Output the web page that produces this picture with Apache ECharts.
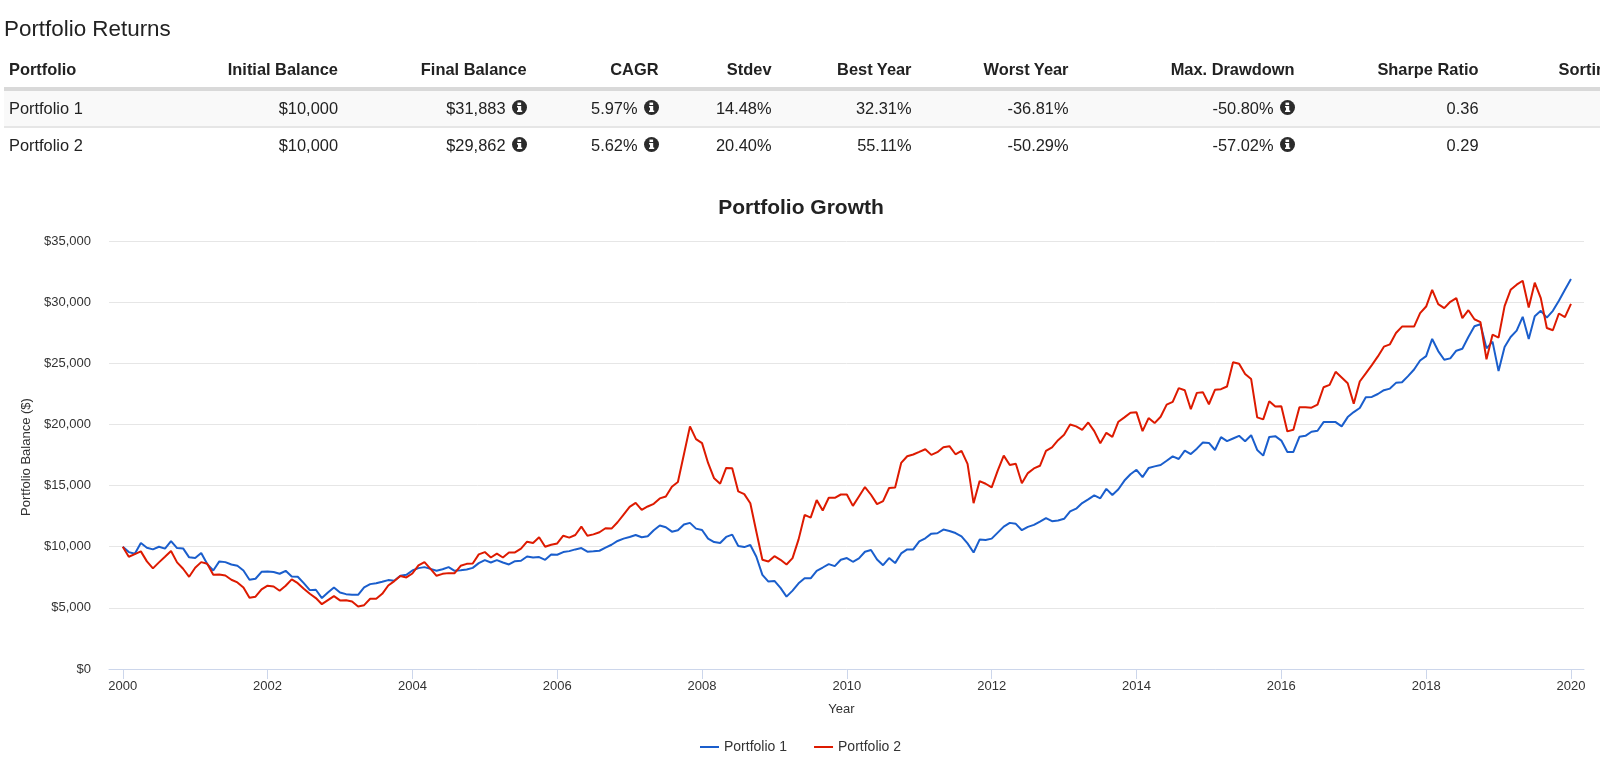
<!DOCTYPE html>
<html>
	<head>
		<meta charset="utf-8" />
		<title>Portfolio Returns</title>
		<script src="https://cdn.jsdelivr.net/npm/echarts@6/dist/echarts.min.js"></script>
		<style>
			html, body { margin: 0; padding: 0; width: 1600px; height: 769px; overflow: hidden; background: #fff; }
			body { font-family: "Liberation Sans", Helvetica, Arial, sans-serif; color: #222; }
			#main { position: absolute; left: 0; top: 0; width: 1600px; height: 769px; }
			#heading { position: absolute; left: 4px; top: 16px; font-size: 22.4px; line-height: 26px; z-index: 2; }
			#returns { position: absolute; left: 4px; top: 52px; width: 1657px; table-layout: fixed; border-collapse: separate; border-spacing: 0; font-size: 16.4px; z-index: 2; }
			#returns th, #returns td { padding: 0; text-align: right; white-space: nowrap; }
			#returns th:first-child, #returns td:first-child { text-align: left; padding-left: 5px; }
			#returns th { height: 35px; border-bottom: 4px solid #d9d9d9; font-weight: bold; }
			#returns td { height: 34px; }
			#returns tr.first td { height: 35px; background: #f9f9f9; border-bottom: 2px solid #e6e6e6; }
			.info { display: inline-block; width: 15px; height: 15px; margin-left: 6px; vertical-align: -1px; }
		</style>
	</head>
	<body>
		<div id="main"></div>
		<div id="heading">Portfolio Returns</div>
		<table id="returns"><colgroup id="cols"></colgroup><thead><tr id="head"></tr></thead><tbody id="rows"></tbody></table>
		<script>
			// table contents
			var columns = ['Portfolio', 'Initial Balance', 'Final Balance', 'CAGR', 'Stdev', 'Best Year', 'Worst Year', 'Max. Drawdown', 'Sharpe Ratio', 'Sortino Ratio'];
			var columnWidths = [196, 138, 188.5, 132, 113, 140, 157, 226, 184, 183];
			var infoColumns = [2, 3, 7];
			var row1 = ['Portfolio 1', '$10,000', '$31,883', '5.97%', '14.48%', '32.31%', '-36.81%', '-50.80%', '0.36', ''];
			var row2 = ['Portfolio 2', '$10,000', '$29,862', '5.62%', '20.40%', '55.11%', '-50.29%', '-57.02%', '0.29', ''];

			// month end balances, Jan 2000 to Jan 2020
			var portfolio1 = [
				10000, 9560, 9430, 10300, 9920, 9780, 10000, 9840, 10460, 9890, 9860, 9130,
				9070, 9480, 8580, 8060, 8800, 8740, 8550, 8440, 8060, 7300, 7380, 7950,
				7980, 7930, 7790, 8030, 7570, 7540, 7020, 6450, 6480, 5800, 6260, 6670,
				6260, 6120, 6070, 6070, 6670, 6940, 7020, 7130, 7270, 7220, 7620, 7700,
				8055, 8250, 8330, 8190, 8030, 8160, 8330, 8030, 8080, 8140, 8270, 8660,
				8900, 8710, 8900, 8710, 8550, 8820, 8850, 9200, 9120, 9150, 8930, 9370,
				9340, 9560, 9640, 9780, 9890, 9590, 9620, 9670, 9920, 10160, 10470, 10660,
				10800, 10960, 10770, 10850, 11340, 11730, 11590, 11230, 11340, 11810, 11950, 11480,
				11370, 10660, 10380, 10300, 10800, 10990, 10060, 9970, 10140, 9180, 7700, 7150,
				7200, 6630, 5920, 6410, 7010, 7420, 7420, 8030, 8300, 8580, 8410, 8930,
				9070, 8770, 9040, 9590, 9730, 8960, 8490, 9070, 8660, 9450, 9780, 9780,
				10440, 10690, 11070, 11100, 11400, 11290, 11120, 10850, 10270, 9530, 10580, 10550,
				10660, 11150, 11640, 11950, 11870, 11350, 11620, 11790, 12060, 12340, 12090, 12140,
				12280, 12890, 13110, 13570, 13870, 14200, 13960, 14730, 14230, 14700, 15410, 15930,
				16290, 15690, 16430, 16570, 16680, 17030, 17390, 17170, 17860, 17580, 18020, 18520,
				18490, 17910, 18960, 18630, 18850, 19070, 18630, 19120, 17910, 17450, 18980, 19040,
				18680, 17750, 17750, 18990, 19070, 19400, 19480, 20190, 20190, 20190, 19840, 20600,
				21010, 21340, 22220, 22250, 22490, 22800, 22930, 23400, 23450, 23950, 24490, 25230,
				25590, 26990, 26000, 25290, 25400, 26030, 26190, 27150, 28030, 28190, 26220, 26770,
				24360, 26330, 27150, 27670, 28800, 26990, 28850, 29290, 28740, 29290, 30110, 31010,
				31883
			];
			var portfolio2 = [
				10000, 9180, 9400, 9620, 8800, 8230, 8720, 9180, 9650, 8720, 8200, 7540,
				8280, 8740, 8610, 7710, 7730, 7650, 7300, 7080, 6670, 5820, 5910, 6510,
				6810, 6750, 6400, 6810, 7330, 7020, 6560, 6150, 5800, 5300, 5630, 5960,
				5610, 5630, 5520, 5110, 5220, 5740, 5740, 6150, 6830, 7190, 7600, 7490,
				7810, 8470, 8740, 8190, 7620, 7780, 7840, 7840, 8440, 8600, 8630, 9370,
				9560, 9120, 9430, 9120, 9530, 9530, 9840, 10410, 10300, 10770, 10000, 10160,
				10270, 10900, 10740, 10960, 11640, 10900, 11010, 11180, 11510, 11480, 12000, 12630,
				13260, 13590, 13010, 13290, 13510, 13950, 14110, 14910, 15290, 17560, 19840, 18800,
				18470, 16850, 15590, 15150, 16440, 16410, 14520, 14300, 13560, 11230, 8930, 8790,
				9230, 8930, 8550, 9070, 10600, 12600, 12380, 13810, 12960, 14000, 14000, 14270,
				14270, 13340, 14110, 14880, 14250, 13480, 13730, 14800, 14850, 16850, 17400, 17540,
				17750, 17970, 17510, 17730, 18140, 18220, 17560, 17840, 16770, 13560, 15370, 15150,
				14850, 16220, 17450, 16680, 16790, 15190, 16020, 16400, 16620, 17830, 18130, 18710,
				19150, 20000, 19840, 19560, 20160, 19450, 18460, 19310, 18980, 20220, 20580, 20960,
				20990, 19450, 20520, 20110, 20630, 21620, 21840, 22970, 22800, 21240, 22580, 22640,
				21650, 22830, 22880, 23100, 25080, 24970, 24120, 23710, 20580, 20410, 21900, 21460,
				21480, 19430, 19560, 21400, 21400, 21370, 21620, 23040, 23230, 24300, 23840, 23370,
				21700, 23510, 24170, 24850, 25560, 26360, 26550, 27480, 28000, 28000, 28000, 29100,
				29640, 31010, 29840, 29510, 30030, 30330, 28690, 29340, 28600, 28360, 25320, 27340,
				27100, 29670, 31010, 31430, 31750, 29560, 31590, 30330, 27890, 27700, 29070, 28770,
				29862
			];
			var yearTicks = [2000, 2002, 2004, 2006, 2008, 2010, 2012, 2014, 2016, 2018, 2020];

			// 一个月一个点
			function toPoints(values) {
				return values.map(function (v, i) {
					return [2000 + i / 12, v];
				});
			}

			function infoIcon() {
				return '<svg class="info" viewBox="0 0 15 15"><circle cx="7.5" cy="7.5" r="7.5" fill="#2b2b2b"/>' +
					'<rect x="5.5" y="2.6" width="3.6" height="2.4" fill="#fff"/>' +
					'<path d="M5 6h4.2v4.4h1V12H5v-1.6h1V7.6H5z" fill="#fff"/></svg>';
			}

			function fillTable() {
				document.getElementById('cols').innerHTML = columnWidths.map(function (w) {
					return '<col style="width:' + w + 'px">';
				}).join('');
				document.getElementById('head').innerHTML = columns.map(function (c) {
					return '<th>' + c + '</th>';
				}).join('');
				document.getElementById('rows').innerHTML = [row1, row2].map(function (row, r) {
					var cells = row.map(function (c, i) {
						return '<td>' + c + (infoColumns.indexOf(i) >= 0 ? infoIcon() : '') + '</td>';
					}).join('');
					return '<tr class="' + (r == 0 ? 'first' : '') + '">' + cells + '</tr>';
				}).join('');
			}
			fillTable();

			var textColor = '#333';
			var font = '"Liberation Sans", Helvetica, Arial, sans-serif';
			var mycharts = echarts.init(document.getElementById('main'));
			mycharts.setOption({
				animation: false,
				textStyle: { fontFamily: font },
				title: {
					text: 'Portfolio Growth',
					left: 796,
					top: 193,
					textAlign: 'center',
					textStyle: { fontSize: 21, fontWeight: 'bold', color: '#222', fontFamily: font }
				},
				legend: {
					left: 695,
					top: 735,
					icon: 'rect',
					itemWidth: 19,
					itemHeight: 2,
					itemGap: 27,
					textStyle: { fontSize: 14, color: textColor, fontFamily: font },
					data: ['Portfolio 1', 'Portfolio 2']
				},
				grid: { left: 109, right: 16, top: 241, height: 428, containLabel: false },
				xAxis: {
					type: 'value',
					min: 1999.81,
					max: 2020.18,
					name: 'Year',
					nameLocation: 'middle',
					nameGap: 34,
					nameTextStyle: { fontSize: 13, color: textColor, padding: [0, 10, 0, 0] },
					axisLine: { lineStyle: { color: '#ccd6eb', width: 1 } },
					axisTick: { length: 10, lineStyle: { color: '#ccd6eb' }, customValues: yearTicks },
					axisLabel: {
						fontSize: 13,
						color: textColor,
						margin: 11,
						customValues: yearTicks,
						formatter: function (v) { return String(v); }
					},
					splitLine: { show: false }
				},
				yAxis: {
					type: 'value',
					min: 0,
					max: 35000,
					interval: 5000,
					name: 'Portfolio Balance ($)',
					nameLocation: 'middle',
					nameGap: 72,
					nameTextStyle: { fontSize: 13, color: textColor, padding: [0, 4, 0, 0] },
					axisLine: { show: false },
					axisTick: { show: false },
					axisLabel: {
						fontSize: 13,
						color: textColor,
						margin: 18,
						padding: [5, 0, 0, 0],
						formatter: function (v) { return '$' + v.toLocaleString('en-US'); }
					},
					splitLine: { lineStyle: { color: '#e6e6e6', width: 1 } }
				},
				series: [
					{
						name: 'Portfolio 1',
						type: 'line',
						symbol: 'none',
						data: toPoints(portfolio1),
						itemStyle: { color: '#1a5ecc' },
						lineStyle: { color: '#1a5ecc', width: 2 }
					},
					{
						name: 'Portfolio 2',
						type: 'line',
						symbol: 'none',
						data: toPoints(portfolio2),
						itemStyle: { color: '#dd1a00' },
						lineStyle: { color: '#dd1a00', width: 2 }
					}
				]
			});
		</script>
	</body>
</html>
